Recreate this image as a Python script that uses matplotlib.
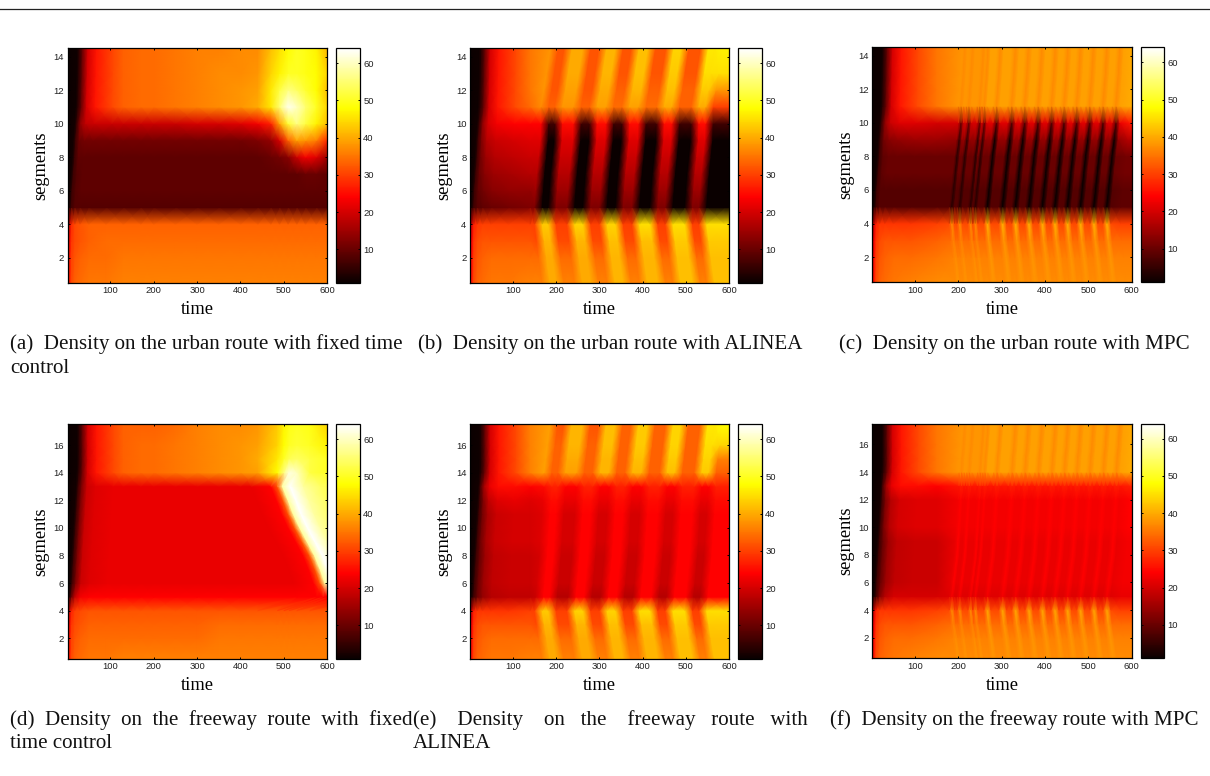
import numpy as np
import matplotlib
matplotlib.use("Agg")
import matplotlib.pyplot as plt
from matplotlib.colors import LinearSegmentedColormap
from matplotlib.lines import Line2D

# ---- shared tick labels / coordinates ----
time_ticks = [100, 200, 300, 400, 500, 600]
urban_ticks = [2, 4, 6, 8, 10, 12, 14]
freeway_ticks = [2, 4, 6, 8, 10, 12, 14, 16]
cbar_ticks = [10, 20, 30, 40, 50, 60]
urban_y = [0.5, 2, 3, 4, 5, 6, 7, 8, 9, 10, 11, 12, 13, 14.5]
freeway_y = [0.5, 2, 3, 4, 5, 6, 7, 8, 9, 10, 11, 12, 13, 14, 15, 16, 17.5]

# ---- (a) urban route, fixed time ----
a_t = [1, 5, 10, 18, 30, 50, 90, 130, 170, 200, 250, 300, 350, 400, 440, 470, 490, 510, 530, 550, 575, 600]
a_y05 = [16, 26, 31, 33, 34, 35, 35, 36, 36, 36, 36, 36, 36, 36, 36, 36, 36, 36, 36, 36, 36, 36]
a_y2 = [14, 25, 30, 32, 33, 34, 34, 35, 35, 35, 35, 35, 35, 35, 35, 35, 35, 35, 35, 35, 35, 35]
a_y3 = [12, 23, 29, 31, 32, 33, 34, 34, 34, 34, 34, 34, 34, 34, 34, 34, 34, 34, 34, 34, 34, 34]
a_y4 = [8, 20, 28, 31, 32, 33, 33, 33, 33, 33, 33, 33, 33, 33, 33, 33, 33, 33, 33, 33, 33, 33]
a_y5 = [1, 2, 6, 8, 8, 8, 8, 8, 8, 8, 8, 8, 8, 8, 8, 8, 8, 8, 8, 8, 8, 8]
a_y6 = [1, 2, 6, 8, 9, 9, 9, 9, 9, 9, 9, 9, 9, 9, 9, 9, 9, 9, 9, 9, 9, 9]
a_y7 = [1, 2, 6, 8, 9, 9, 9, 9, 9, 9, 9, 9, 9, 9, 9, 9, 9, 9, 9, 10, 10, 9]
a_y8 = [1, 2, 6, 9, 9, 9, 9, 9, 9, 9, 9, 9, 9, 9, 9, 10, 11, 13, 19, 23, 21, 15]
a_y9 = [1, 2, 6, 10, 11, 11, 11, 11, 11, 11, 11, 11, 11, 11, 12, 14, 20, 33, 39, 38, 36, 28]
a_y10 = [1, 2, 6, 14, 18, 19, 19, 19, 19, 19, 19, 20, 20, 21, 23, 27, 39, 51, 56, 52, 47, 42]
a_y11 = [1, 1.5, 4, 10, 20, 26, 31, 33, 34, 34, 35, 36, 37, 38, 40, 46, 55, 63, 60, 55, 50, 44]
a_y12 = [1, 1.5, 4, 10, 20, 26, 31, 33, 34, 34, 35, 36, 37, 38, 39, 46, 52, 56, 54, 51, 48, 42]
a_y13 = [1, 1.5, 4, 10, 20, 26, 31, 33, 34, 34, 35, 36, 37, 37, 38, 44, 47, 50, 50, 49, 48, 44]
a_y14 = [1, 1.5, 4, 10, 20, 26, 31, 33, 34, 34, 35, 36, 36, 37, 37, 42, 45, 48, 50, 49, 47, 41]
a_rows = [a_y05, a_y2, a_y3, a_y4, a_y5, a_y6, a_y7, a_y8, a_y9, a_y10, a_y11, a_y12, a_y13, a_y14]
a_lead = [0, 0, 0, 0, 0, 2, 5, 8, 10, 13, 15, 16, 17, 18]
a_delay = [0] * 14

# ---- (d) freeway route, fixed time ----
d_t = [1, 5, 10, 18, 30, 50, 90, 130, 170, 200, 250, 300, 350, 400, 440, 485, 500, 512, 530, 560, 600, 720]
d_y05 = [16, 26, 31, 33, 34, 35, 35, 36, 36, 36, 36, 36, 36, 36, 36, 36, 36, 36, 36, 36, 36, 36]
d_y2 = [14, 25, 30, 32, 33, 34, 34, 34, 34, 34, 34, 34, 35, 35, 35, 35, 35, 35, 35, 35, 35, 35]
d_y3 = [12, 23, 29, 31, 32, 33, 33, 33, 33, 33, 33, 33, 34, 34, 34, 34, 34, 34, 34, 34, 34, 34]
d_y4 = [8, 20, 27, 30, 31, 32, 32, 32, 32, 32, 32, 32, 32, 32, 32, 32, 32, 32, 32, 32, 32, 32]
d_y5 = [1, 3, 10, 18, 23, 24, 24, 24, 24, 24, 24, 24, 24, 24, 24, 24, 24, 24, 24, 24, 24, 24]
d_mid = [1, 2, 6, 12, 19, 21, 22, 22, 22, 22, 22, 22, 22, 22, 22, 24, 32, 58, 64, 58, 54, 48]
d_y14 = [1, 1.5, 4, 10, 20, 26, 31, 33, 34, 34, 35, 36, 37, 38, 39, 48, 56, 62, 60, 52, 50, 50]
d_y15 = [1, 1.5, 4, 10, 20, 26, 31, 33, 34, 34, 35, 36, 37, 38, 40, 46, 50, 53, 54, 52, 50, 50]
d_y16 = [1, 1.5, 4, 10, 20, 26, 31, 33, 34, 34, 35, 36, 37, 38, 39, 44, 48, 50, 51, 50, 47, 44]
d_y17 = [1, 1.5, 4, 10, 20, 26, 31, 33, 33, 33, 34, 36, 37, 37, 38, 43, 47, 49, 50, 49, 44, 40]
d_rows = [d_y05, d_y2, d_y3, d_y4, d_y5, d_mid, d_mid, d_mid, d_mid, d_mid, d_mid, d_mid, d_mid,
          d_y14, d_y15, d_y16, d_y17]
d_lead = [0, 0, 0, 0, 0, 2, 4, 6, 8, 10, 12, 14, 16, 17, 18, 18, 18]
d_delay = [0, 0, 0, 0, 90, 83, 72, 59, 42, 25, 10, -2, -15, 0, 0, 0, 0]

# ---- (b) urban route, ALINEA ----
alinea_t = [1, 5, 10, 18, 30, 50, 90, 140,
            150, 168, 182, 200, 225, 243, 262, 280, 300, 318, 337, 355,
            375, 393, 417, 435, 452, 470, 497, 515, 530, 548, 590, 720]
b_y05 = [16, 26, 31, 33, 34, 35, 35, 36,
         36, 40, 40, 36, 36, 40, 40, 36, 36, 41, 41, 36,
         36, 41, 41, 36, 36, 42, 42, 36, 36, 42, 42, 42]
b_y2 = [14, 25, 30, 32, 33, 34, 34, 34,
        34, 40, 40, 34, 34, 40, 40, 34, 34, 41, 41, 34,
        34, 41, 41, 34, 34, 42, 42, 34, 34, 42, 42, 42]
b_y3 = [12, 23, 29, 31, 32, 32, 32, 32,
        31, 41, 41, 31, 31, 41, 41, 31, 31, 42, 42, 31,
        31, 42, 42, 31, 31, 43, 43, 31, 31, 43, 43, 43]
b_y4 = [8, 20, 27, 29, 30, 30, 30, 30,
        30, 43, 43, 30, 30, 44, 44, 30, 30, 44, 44, 30,
        30, 45, 45, 30, 30, 45, 45, 30, 30, 45, 45, 45]
b_y5 = [1, 2, 6, 8, 9, 10, 11, 12,
        12, 1, 1, 12, 12, 1, 1, 12, 12, 1, 1, 12,
        12, 1, 1, 12, 12, 1, 1, 12, 12, 1, 1, 1]
b_y6 = [1, 2, 6, 9, 11, 13, 14, 14,
        15, 1, 1, 15, 15, 1, 1, 15, 15, 1, 1, 15,
        15, 1, 1, 15, 15, 1, 1, 15, 15, 1, 1, 1]
b_y7 = [1, 2, 6, 10, 13, 15, 16, 17,
        17, 1, 1, 17, 17, 1, 1, 17, 17, 1, 1, 17,
        17, 1, 1, 17, 17, 1, 1, 17, 17, 1, 1, 1]
b_y8 = [1, 2, 6, 11, 15, 17, 18, 19,
        19, 1, 1, 19, 19, 1, 1, 19, 19, 1, 1, 19,
        19, 1, 1, 19, 19, 1, 1, 19, 19, 1, 1, 1]
b_y9 = [1, 2, 6, 12, 17, 19, 20, 21,
        21, 1, 1, 21, 21, 1, 1, 21, 21, 1, 1, 21,
        21, 1, 1, 21, 21, 1, 1, 21, 21, 1, 1, 1]
b_y10 = [1, 2, 6, 14, 20, 23, 24, 24,
         24, 6, 6, 25, 25, 6, 6, 25, 25, 6, 6, 25,
         25, 6, 6, 25, 25, 6, 6, 25, 25, 6, 6, 6]
b_y11 = [1, 1.5, 4, 10, 20, 26, 31, 34,
         37, 33, 33, 38, 38, 33, 33, 39, 39, 34, 34, 39,
         39, 34, 34, 40, 40, 33, 33, 40, 40, 30, 30, 30]
b_y12 = [1, 1.5, 4, 10, 20, 26, 31, 35,
         38, 32, 32, 39, 39, 32, 32, 40, 40, 33, 33, 41,
         41, 33, 33, 42, 42, 33, 33, 43, 43, 38, 38, 38]
b_y13 = [1, 1.5, 4, 10, 20, 26, 31, 35,
         38, 32, 32, 40, 40, 32, 32, 41, 41, 32, 32, 42,
         42, 32, 32, 43, 43, 32, 32, 45, 45, 45, 45, 45]
b_y14 = [1, 1.5, 4, 10, 20, 26, 31, 35,
         38, 32, 32, 40, 40, 32, 32, 41, 41, 32, 32, 42,
         42, 32, 32, 44, 44, 32, 32, 46, 46, 47, 47, 47]
b_rows = [b_y05, b_y2, b_y3, b_y4, b_y5, b_y6, b_y7, b_y8, b_y9, b_y10, b_y11, b_y12, b_y13, b_y14]
b_lead = [0, 0, 0, 0, 0, 2, 5, 8, 10, 13, 15, 16, 17, 18]
b_delay = [18, 10, 5, 0, 0, 3, 6, 10, 14, 15, 15, 22, 28, 37]

# ---- (e) freeway route, ALINEA ----
e_y4 = [8, 20, 27, 29, 29, 29, 29, 30,
        30, 43, 43, 30, 30, 44, 44, 30, 30, 44, 44, 30,
        30, 45, 45, 30, 30, 45, 45, 30, 30, 45, 45, 45]
e_y5 = [1, 2, 6, 10, 14, 17, 18, 18,
        19, 24, 24, 17, 17, 24, 24, 17, 17, 24, 24, 17,
        17, 24, 24, 17, 17, 24, 24, 17, 17, 24, 24, 24]
e_y6 = [1, 2, 6, 10, 15, 18, 19, 19,
        20, 24, 24, 19, 19, 24, 24, 19, 19, 24, 24, 19,
        19, 24, 24, 19, 19, 24, 24, 19, 19, 24, 24, 24]
e_y9 = [1, 2, 6, 11, 16, 19, 20, 20,
        21, 24, 24, 20, 20, 24, 24, 20, 20, 24, 24, 20,
        20, 24, 24, 20, 20, 24, 24, 20, 20, 24, 24, 24]
e_y12 = [1, 2, 6, 12, 18, 21, 22, 21,
         22, 25, 25, 22, 22, 25, 25, 22, 22, 25, 25, 22,
         22, 25, 25, 22, 22, 25, 25, 22, 22, 25, 25, 25]
e_y13 = [1, 2, 8, 16, 22, 25, 25, 24,
         25, 27, 27, 24, 24, 27, 27, 24, 24, 27, 27, 24,
         24, 27, 27, 24, 24, 27, 27, 24, 24, 27, 27, 27]
e_y14 = [1, 1.5, 4, 10, 20, 26, 31, 36,
         39, 33, 33, 39, 39, 33, 33, 41, 41, 33, 33, 41,
         41, 33, 33, 42, 42, 33, 33, 43, 43, 33, 33, 33]
e_y15 = [1, 1.5, 4, 10, 20, 26, 31, 36,
         39, 33, 33, 40, 40, 33, 33, 41, 41, 33, 33, 42,
         42, 33, 33, 43, 43, 33, 33, 44, 44, 36, 36, 36]
e_y16 = [1, 1.5, 4, 10, 20, 26, 31, 36,
         39, 33, 33, 41, 41, 33, 33, 42, 42, 33, 33, 43,
         43, 33, 33, 44, 44, 33, 33, 45, 45, 44, 44, 44]
e_y17 = [1, 1.5, 4, 10, 20, 26, 31, 36,
         39, 32, 32, 41, 41, 32, 32, 42, 42, 33, 33, 43,
         43, 33, 33, 44, 44, 33, 33, 46, 46, 48, 48, 48]
e_rows = [b_y05, b_y2, b_y3, e_y4, e_y5, e_y6, e_y6, e_y6, e_y9, e_y9, e_y9, e_y12, e_y13,
          e_y14, e_y15, e_y16, e_y17]
e_lead = [0, 0, 0, 0, 0, 2, 4, 6, 8, 10, 12, 14, 16, 17, 18, 18, 18]
e_delay = [18, 10, 5, 0, 3, 6, 9, 12, 14, 16, 18, 20, 22, 22, 26, 30, 36]

# ---- (c) urban route, MPC ----
mpc_t = [1, 5, 10, 18, 30, 50, 90, 150,
         179, 185, 191, 197, 203, 209, 222, 228, 233, 234, 239, 245,
         259, 267, 275, 293, 302, 311, 323, 332, 341, 354, 363, 372,
         385, 394, 403, 414, 423, 432, 443, 452, 461, 473, 482, 491,
         504, 513, 522, 534, 543, 552, 575, 720]
c_y05 = [16, 26, 31, 33, 34, 35, 36, 37,
         37, 38, 37, 37, 38, 37, 37, 38, 37, 37, 38, 37,
         37, 38, 37, 37, 38, 37, 37, 38, 37, 37, 38, 37,
         37, 38, 37, 37, 38, 37, 37, 38, 37, 37, 38, 37,
         37, 38, 37, 37, 38, 37, 37, 37]
c_y2 = [14, 25, 30, 32, 33, 34, 34, 35,
        36, 37, 36, 36, 37, 36, 36, 37, 36, 36, 37, 36,
        36, 38, 36, 36, 38, 36, 36, 38, 36, 36, 38, 36,
        36, 38, 36, 36, 38, 36, 36, 38, 36, 36, 38, 36,
        36, 38, 36, 36, 38, 36, 36, 36]
c_y3 = [12, 23, 29, 31, 32, 32, 32, 33,
        34, 36, 34, 34, 36, 34, 34, 36, 34, 34, 36, 34,
        34, 38, 34, 34, 38, 34, 34, 38, 34, 34, 38, 34,
        34, 38, 34, 34, 38, 34, 34, 38, 34, 34, 38, 34,
        34, 38, 34, 34, 38, 34, 34, 34]
c_y4 = [8, 20, 27, 29, 29, 29, 29, 30,
        31, 37, 31, 31, 37, 31, 31, 37, 31, 31, 37, 31,
        31, 41, 31, 31, 41, 31, 31, 41, 31, 31, 41, 31,
        31, 41, 31, 31, 41, 31, 31, 41, 31, 31, 41, 31,
        31, 41, 31, 31, 41, 31, 30, 30]
c_y5 = [1, 2, 6, 8, 8, 8, 8, 8,
        8, 4, 8, 8, 4, 8, 8, 4, 8, 8, 4, 8,
        8, 1, 8, 8, 1, 8, 8, 1, 8, 8, 1, 8,
        8, 1, 8, 8, 1, 8, 8, 1, 8, 8, 1, 8,
        8, 1, 8, 8, 1, 8, 9, 9]
c_y7 = [1, 2, 6, 9, 10, 10, 10, 10,
        10, 4, 10, 10, 4, 10, 10, 4, 10, 10, 4, 10,
        10, 1, 10, 10, 1, 10, 10, 1, 10, 10, 1, 10,
        10, 1, 10, 10, 1, 10, 10, 1, 10, 10, 1, 10,
        10, 1, 10, 10, 1, 10, 11, 11]
c_y9 = [1, 2, 6, 11, 13, 14, 15, 15,
        14, 5, 14, 14, 5, 14, 14, 5, 14, 14, 5, 14,
        14, 1, 14, 14, 1, 14, 14, 1, 14, 14, 1, 14,
        14, 1, 14, 14, 1, 14, 14, 1, 14, 14, 1, 14,
        14, 1, 14, 14, 1, 14, 17, 17]
c_y10 = [1, 2, 6, 14, 19, 21, 21, 20,
         20, 10, 20, 20, 10, 20, 20, 10, 20, 20, 10, 21,
         21, 8, 21, 21, 8, 21, 21, 8, 21, 21, 8, 21,
         21, 8, 21, 21, 8, 21, 21, 8, 21, 21, 8, 21,
         21, 8, 21, 21, 8, 22, 26, 26]
c_top = [1, 1.5, 4, 10, 20, 26, 31, 35,
         38, 37, 38, 38, 37, 38, 38, 37, 38, 38, 37, 39,
         39, 37, 39, 39, 37, 39, 39, 37, 39, 39, 37, 39,
         39, 37, 39, 39, 37, 39, 39, 37, 39, 39, 37, 39,
         39, 37, 39, 39, 37, 39, 40, 41]
c_rows = [c_y05, c_y2, c_y3, c_y4, c_y5, c_y5, c_y7, c_y7, c_y9, c_y10, c_top, c_top, c_top, c_top]
c_lead = [0, 0, 0, 0, 0, 2, 5, 8, 10, 13, 15, 16, 17, 18]
c_delay = [14, 8, 3, 0, 0, 4, 8, 12, 17, 21, 21, 24, 27, 30]

# ---- (f) freeway route, MPC ----
f_y4 = [8, 20, 27, 29, 29, 29, 29, 30,
        31, 37, 31, 31, 37, 31, 31, 37, 31, 31, 37, 31,
        31, 40, 31, 31, 40, 31, 31, 40, 31, 31, 40, 31,
        31, 40, 31, 31, 40, 31, 31, 40, 31, 31, 40, 31,
        31, 40, 31, 31, 40, 31, 30, 30]
f_y5 = [1, 2, 6, 12, 17, 20, 20, 20,
        21, 23, 21, 21, 23, 21, 21, 23, 21, 21, 23, 21,
        21, 23, 21, 21, 23, 21, 21, 23, 21, 21, 23, 21,
        21, 23, 21, 21, 23, 21, 21, 23, 21, 21, 23, 21,
        21, 23, 21, 21, 23, 21, 22, 22]
f_y6 = [1, 2, 6, 10, 15, 18, 19, 19,
        22, 24, 22, 22, 24, 22, 22, 24, 22, 22, 24, 22,
        22, 24, 22, 22, 24, 22, 22, 24, 22, 22, 24, 22,
        22, 24, 22, 22, 24, 22, 22, 24, 22, 22, 24, 22,
        22, 24, 22, 22, 24, 22, 23, 23]
f_y10 = [1, 2, 6, 12, 17, 20, 21, 21,
         23, 24, 23, 23, 24, 23, 23, 24, 23, 23, 24, 23,
         23, 24, 23, 23, 24, 23, 23, 24, 23, 23, 24, 23,
         23, 24, 23, 23, 24, 23, 23, 24, 23, 23, 24, 23,
         23, 24, 23, 23, 24, 23, 24, 24]
f_y13 = [1, 2, 8, 16, 22, 25, 25, 24,
         26, 27, 26, 26, 27, 26, 26, 27, 26, 26, 27, 26,
         26, 27, 26, 26, 27, 26, 26, 27, 26, 26, 27, 26,
         26, 27, 26, 26, 27, 26, 26, 27, 26, 26, 27, 26,
         26, 27, 26, 26, 27, 26, 27, 27]
f_rows = [c_y05, c_y2, c_y3, f_y4, f_y5, f_y6, f_y6, f_y6, f_y6, f_y10, f_y10, f_y10, f_y13,
          c_top, c_top, c_top, c_top]
f_lead = [0, 0, 0, 0, 0, 2, 4, 6, 8, 10, 12, 14, 16, 17, 18, 18, 18]
f_delay = [14, 8, 3, 0, 0, 4, 8, 12, 14, 16, 18, 20, 22, 22, 24, 27, 30]

# ---- captions ----
caption_a = ["(a)  Density on the urban route with fixed time", "control"]
caption_b = ["(b)  Density on the urban route with ALINEA"]
caption_c = ["(c)  Density on the urban route with MPC"]
caption_d = ["(d)  Density  on  the  freeway  route  with  fixed", "time control"]
caption_e = ["(e)    Density    on   the    freeway   route   with", "ALINEA"]
caption_f = ["(f)  Density on the freeway route with MPC"]

W, H = 1210, 776
SERIF = "Liberation Serif"
SANS = "Liberation Sans"
hot64 = LinearSegmentedColormap.from_list(
    "hot64",
    [(0, (0.04, 0, 0)), (23 / 63, (1, 0, 0)), (47 / 63, (1, 1, 0)), (1, (1, 1, 1))],
    N=256,
)

fig = plt.figure(figsize=(W / 100, H / 100), dpi=100)
fig.add_artist(Line2D([0, 1], [1 - 8.5 / H, 1 - 8.5 / H], color="#222222", lw=0.9))


def box(x0, y0, x1, y1):
    return [x0 / W, 1 - y1 / H, (x1 - x0) / W, (y1 - y0) / H]


def panel(frame, cframe, t, rows, y, lead, delay, thresh, yticks, caption, cap_x, cap_y, ylabel_x):
    ax = fig.add_axes(box(*frame))
    cax = fig.add_axes(box(*cframe))
    t = np.asarray(t, float)
    Z = np.array(rows, float)
    X = np.tile(t, (len(y), 1))
    for i in range(len(y)):
        X[i, (t > 1) & (t <= 90)] += lead[i]
        X[i, t >= thresh] += delay[i]
    Y = np.tile(np.asarray(y, float)[:, None], (1, len(t)))
    m = ax.pcolormesh(X, Y, Z, shading="gouraud", cmap=hot64, vmin=1, vmax=64)
    ax.set_xlim(1, 600)
    ax.set_ylim(y[0], y[-1])
    ax.set_xticks(time_ticks)
    ax.set_yticks(yticks)
    ax.tick_params(direction="in", top=True, right=True, length=1.6, width=0.7,
                   labelsize=6.8, pad=2.5, labelcolor="#222222")
    for lab in ax.get_xticklabels() + ax.get_yticklabels():
        lab.set_family(SANS)
    for s in ax.spines.values():
        s.set_linewidth(0.9)
    ax.set_xlabel("time", family=SERIF, fontsize=13.2, va="baseline")
    ax.xaxis.set_label_coords(0.5, -(31.5) / (frame[3] - frame[1]))
    ax.set_ylabel("segments", family=SERIF, fontsize=13.2)
    ax.yaxis.set_label_coords(ylabel_x, 0.5)
    cb = fig.colorbar(m, cax=cax, ticks=cbar_ticks)
    cax.tick_params(direction="in", left=True, right=True, length=1.6, width=0.7,
                    labelsize=6.8, pad=2.5, labelcolor="#222222")
    for lab in cax.get_yticklabels():
        lab.set_family(SANS)
    cb.outline.set_linewidth(0.9)
    for i, line in enumerate(caption):
        fig.text(cap_x / W, 1 - (cap_y + i * 23.5) / H, line, family=SERIF, fontsize=15.1,
                 va="baseline", ha="left", color="#111111")


panel((67.5, 48.3, 327.2, 282.7), (335.7, 48.3, 359.7, 282.7), a_t, a_rows, urban_y, a_lead, a_delay,
      9999, urban_ticks, caption_a, 10.5, 349, -0.07)
panel((470, 48.3, 729.3, 282.7), (738.3, 48.3, 761.7, 282.7), alinea_t, b_rows, urban_y, b_lead, b_delay,
      150, urban_ticks, caption_b, 418, 349, -0.07)
panel((872.3, 47.3, 1131.7, 282.3), (1140.7, 47.3, 1164, 282.3), mpc_t, c_rows, urban_y, c_lead, c_delay,
      170, urban_ticks, caption_c, 839, 349, -0.07)
panel((67.5, 424.3, 327.2, 659), (335.7, 424.3, 359.7, 659), d_t, d_rows, freeway_y, d_lead, d_delay,
      440, freeway_ticks, caption_d, 10.5, 725, -0.07)
panel((470, 424.3, 729.3, 659), (738.3, 424.3, 761.7, 659), alinea_t, e_rows, freeway_y, e_lead, e_delay,
      150, freeway_ticks, caption_e, 413, 725, -0.07)
panel((872.3, 423.7, 1131.7, 658.3), (1140.7, 423.7, 1164, 658.3), mpc_t, f_rows, freeway_y, f_lead, f_delay,
      170, freeway_ticks, caption_f, 830, 725, -0.07)

fig.savefig("out.png", dpi=100)
